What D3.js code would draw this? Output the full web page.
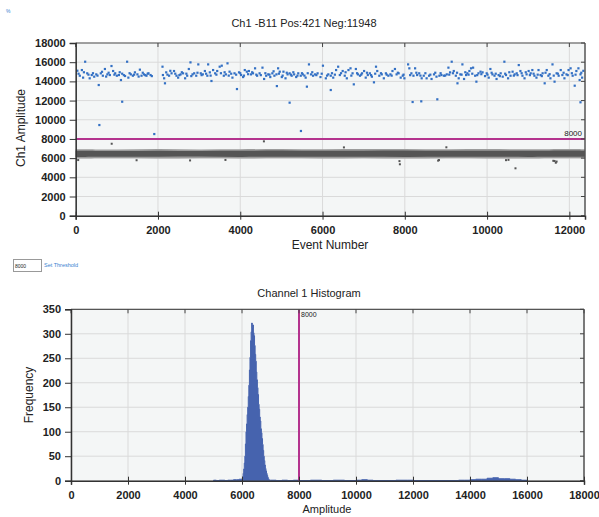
<!DOCTYPE html>
<html>
<head>
<meta charset="utf-8">
<script src="https://cdnjs.cloudflare.com/ajax/libs/d3/7.8.5/d3.min.js"></script>
<style>
	body { margin: 0; background: #fff; }
	text { font-family: "Liberation Sans", Arial, sans-serif; fill: #222; }
	.tick text { font-weight: bold; font-size: 11px; }
	.axis path, .axis line { stroke: #333; }
</style>
</head>
<body>
<div class="chart"></div>
<script>
// ---- data ----
var totalEvents = 12380;
var threshold = 8000;
var ampTicks = [0, 2000, 4000, 6000, 8000, 10000, 12000, 14000, 16000, 18000];
var eventTicks = [0, 2000, 4000, 6000, 8000, 10000, 12000];
var freqTicks = [0, 50, 100, 150, 200, 250, 300, 350];

// positive droplets [event, amplitude]
var positives = [
	[40,15110],[100,14590],[150,15180],[180,14390],[230,16050],[280,14840],[340,14320],[390,14660],[450,14490],[500,14730],
	[560,13620],[610,14840],[660,14590],[710,15290],[770,14730],[830,14660],[870,15600],[910,15080],[960,14840],[1000,14590],
	[1050,14660],[1100,14140],[1130,14800],[1200,14560],[1250,16050],[1280,14390],[1340,14730],[1390,14590],[1440,14940],[1500,14730],
	[1560,15220],[1600,14590],[1660,14730],[1720,14590],[1770,14840],[1820,14660],[2110,15530],[2120,14660],[2150,14320],[2170,13800],
	[2200,14940],[2270,14590],[2330,14840],[2390,15080],[2450,14590],[2490,14390],[2550,14730],[2610,14840],[2660,14320],[2710,14590],
	[2750,15290],[2790,15980],[2840,14730],[2880,14840],[2930,14590],[2980,15770],[3040,14840],[3090,14730],[3140,15080],[3200,14590],
	[3220,15770],[3260,14940],[3300,14040],[3340,15180],[3390,14840],[3440,15080],[3500,15530],[3550,15635],[3600,14590],[3650,14730],
	[3690,15880],[3740,15010],[3810,14390],[3860,14840],[3970,14940],[4020,14660],[4070,14450],[4110,15180],[4160,15010],[4210,15080],
	[4260,14730],[4310,14840],[4360,15360],[4410,14590],[4470,14840],[4540,15430],[4580,14250],[4630,14590],[4680,14730],[4730,14450],
	[4780,14840],[4830,14590],[4880,14730],[4920,15360],[4960,15010],[5010,14450],[5050,15010],[5100,14320],[5150,14730],[5200,14840],
	[5250,14590],[5310,14730],[5360,14450],[5410,14840],[5470,14590],[5520,14730],[5590,14390],[5670,15770],[5720,14730],[5770,14590],
	[5820,14730],[5880,14840],[5950,14450],[6010,15635],[6080,14320],[6140,14730],[6200,14590],[6260,14390],[6330,15180],[6380,15530],
	[6420,14660],[6490,15080],[6540,14590],[6590,14320],[6630,15180],[6680,15360],[6730,14840],[6760,13690],[6810,15290],[6860,14730],
	[6910,14590],[6960,14840],[7010,15080],[7050,14390],[7100,14660],[7150,14840],[7200,14490],[7250,13900],[7300,15530],[7330,15080],
	[7380,14590],[7440,14730],[7490,14320],[7540,14840],[7600,14590],[7650,14730],[7700,15080],[7760,15290],[7800,14730],[7850,14840],
	[7900,14390],[7950,14590],[7990,14320],[8080,15770],[8110,15360],[8160,14840],[8210,14590],[8250,15360],[8300,14660],[8350,14840],
	[8410,14320],[8460,14590],[8530,14320],[8590,14590],[8650,14250],[8710,14730],[8770,14490],[8840,14590],[8890,14660],[8950,14590],
	[9020,14730],[9060,15430],[9100,14940],[9140,16050],[9190,15080],[9240,14590],[9310,14320],[9350,14730],[9400,15770],[9440,14250],
	[9490,14660],[9520,14840],[9570,15080],[9610,15360],[9660,15430],[9710,14590],[9740,13970],[9790,14840],[9840,15010],[9890,14940],
	[9990,14840],[10040,14390],[10080,15290],[10130,14730],[10180,14590],[10230,14250],[10280,14660],[10330,14840],[10380,14490],[10420,16050],
	[10460,14660],[10510,14320],[10570,14590],[10620,15010],[10670,14730],[10720,14840],[10770,15700],[10810,15080],[10860,14590],[10910,14320],
	[10960,14730],[11010,15080],[11060,14840],[11100,15180],[11150,14590],[11200,14390],[11250,15180],[11300,14660],[11350,14840],[11400,13800],
	[11450,15180],[11490,14590],[11540,14320],[11590,15770],[11640,13970],[11690,14840],[11740,14590],[11790,15180],[11830,14660],[11880,14320],
	[11930,14730],[11980,15180],[12030,15360],[12080,14590],[12170,15080],[12220,15360],[12250,14140],[12270,14730],[12310,14390],
	[70,14800],[200,14950],[310,14700],[420,14850],[530,14600],[640,15000],[740,14500],[800,14900],[940,14700],[1070,14950],
	[1170,14650],[1310,14850],[1420,14700],[1530,14500],[1630,14900],[1690,14650],[1750,14800],[1850,14550],[2230,14700],[2300,15100],
	[2420,14800],[2520,14650],[2580,14950],[2690,14800],[2810,14550],[2960,14900],[3060,14650],[3170,14800],[3280,14600],[3420,14700],
	[3530,14850],[3620,14950],[3720,14600],[3780,14800],[3900,14700],[4000,14850],[4090,14600],[4190,14750],[4290,14950],[4390,14700],
	[4500,14650],[4610,14850],[4710,14700],[4810,15050],[4940,14800],[5030,14600],[5130,14900],[5230,14700],[5290,14950],[5390,14600],
	[5500,14850],[5560,14600],[5640,14850],[5750,14950],[5850,14650],[5980,14800],[6110,14600],[6230,14850],[6300,14700],[6450,14850],
	[6560,14950],[6700,14600],[6840,14850],[6940,14700],[7080,14900],[7180,14650],[7280,14800],[7420,14850],[7560,14700],[7680,14600],
	[7830,14900],[7970,14700],[8130,14650],[8280,14900],[8380,14600],[8500,14850],[8620,14700],[8740,14900],[8870,14850],[8980,14600],
	[9080,14700],[9170,14850],[9270,14900],[9380,14700],[9470,14950],[9550,14700],[9640,14800],[9760,14650],[9860,14750],[9950,14550],
	[10010,14700],[10110,14900],[10210,14800],[10310,14550],[10440,14800],[10540,14950],[10650,14600],[10740,14650],[10840,14850],[10940,14950],
	[11040,14650],[11130,14800],[11230,14700],[11330,14550],[11420,14900],[11520,14750],[11620,14600],[11720,14800],[11860,14900],[11960,14650],
	[12060,14850],[12150,14700],[12290,14900],[12340,15100],
	// low positives
	[575,9450],[1910,8510],[1130,11880],[3920,13200],[5200,11780],[4890,13510],[5620,13450],[8190,11850],[8400,11920],[8790,12130],
	[6200,13100],[12270,11820],[12130,13550],[9280,13800],[5475,8830]
];

// negative cluster as a band per event: outer edge and dense core
var bandEvent = [0, 1000, 2000, 3000, 4000, 5000, 6000, 7000, 8000, 9000, 10000, 11000, 12000, 12380];
var bandLo = [5950, 5980, 5960, 5990, 5970, 5980, 5960, 5990, 5950, 5980, 5970, 5960, 5980, 5970];
var bandHi = [6920, 6900, 6940, 6910, 6930, 6950, 6920, 6940, 6960, 6930, 6940, 6920, 6950, 6930];
var coreLo = [6130, 6150, 6140, 6160, 6130, 6150, 6140, 6150, 6130, 6140, 6150, 6130, 6140, 6150];
var coreHi = [6760, 6740, 6780, 6750, 6770, 6790, 6760, 6780, 6800, 6770, 6780, 6760, 6790, 6770];

// negative outliers [event, amplitude]
var negOutliers = [
	[875,7500],[4575,7750],[7880,5360],[10690,4940],[11670,5520],[1480,5780],[2780,5760],[8830,5800],
	[10460,5790],[10520,5820],[11640,5700],[11690,5640],[60,5800],[3640,5810],[6520,7120],[9010,7130],
	[8810,5740],[7870,5690],[11610,5720]
];

// histogram (bin start amplitude, frequency) - drawn as steps
var histAmplitude = [
	5000, 5100, 5200, 5300, 5400, 5500, 5600, 5700, 5800, 5900,
	6000, 6020, 6040, 6060, 6080, 6100, 6120, 6140, 6160, 6180,
	6200, 6220, 6240, 6260, 6280, 6300, 6320, 6340, 6360, 6380,
	6400, 6420, 6440, 6460, 6480, 6500, 6520, 6540, 6560, 6580,
	6600, 6620, 6640, 6660, 6680, 6700, 6720, 6740, 6760, 6780,
	6800, 6820, 6840, 6860, 6880, 6900, 6920, 6940, 6960, 7000,
	7200, 7400, 7600, 7800, 8000, 8400, 8800, 9200, 9600, 10000,
	10200, 10400, 10600, 11400, 11800, 12000, 13600, 13800, 14000, 14200,
	14400, 14600, 14800, 15000, 15200, 15400, 15600, 15800, 16000
];
var histFrequency = [
	1, 0, 1, 1, 0, 1, 1, 2, 2, 3,
	4, 8, 15, 24, 36, 50, 75, 100, 116, 135,
	150, 172, 195, 226, 252, 286, 304, 322, 312, 318,
	302, 296, 276, 258, 244, 222, 206, 190, 176, 156,
	146, 130, 122, 106, 98, 86, 74, 62, 50, 41,
	32, 25, 20, 15, 11, 7, 4, 2, 1, 1,
	0, 1, 0, 1, 0, 1, 0, 1, 0, 1,
	2, 1, 0, 1, 1, 0, 1, 1, 2, 3,
	3, 5, 6, 4, 4, 3, 2, 1, 0
];

var svg = d3.select(".chart").append("svg")
	.attr("width", 599)
	.attr("height", 517);

var magenta = "#b4338e";

function frame(g, x, y, xTicks, yTicks) {
	var x0 = x.range()[0], x1 = x.range()[1];
	var y0 = y.range()[0], y1 = y.range()[1];

	g.append("rect")
		.attr("x", x0).attr("y", y1)
		.attr("width", x1 - x0).attr("height", y0 - y1)
		.attr("fill", "#f4f6f6");

	g.selectAll("line.vgrid").data(xTicks).enter().append("line")
		.attr("class", "vgrid")
		.attr("x1", function (d) { return x(d); }).attr("x2", function (d) { return x(d); })
		.attr("y1", y0).attr("y2", y1)
		.attr("stroke", "#dadada").attr("stroke-width", 1);

	g.selectAll("line.hgrid").data(yTicks).enter().append("line")
		.attr("class", "hgrid")
		.attr("x1", x0).attr("x2", x1)
		.attr("y1", function (d) { return y(d); }).attr("y2", function (d) { return y(d); })
		.attr("stroke", "#dadada").attr("stroke-width", 1);
}

function axes(g, x, y, xTicks, yTicks) {
	var x0 = x.range()[0], x1 = x.range()[1];
	var y0 = y.range()[0], y1 = y.range()[1];

	// top and right borders with small inner ticks
	g.append("line").attr("x1", x0).attr("x2", x1).attr("y1", y1).attr("y2", y1)
		.attr("stroke", "#555").attr("stroke-width", 1.2);
	g.append("line").attr("x1", x1).attr("x2", x1).attr("y1", y1).attr("y2", y0)
		.attr("stroke", "#555").attr("stroke-width", 1.5);
	g.selectAll("line.ttick").data(xTicks).enter().append("line")
		.attr("class", "ttick")
		.attr("x1", function (d) { return x(d); }).attr("x2", function (d) { return x(d); })
		.attr("y1", y1).attr("y2", y1 + 4).attr("stroke", "#444");
	g.selectAll("line.rtick").data(yTicks).enter().append("line")
		.attr("class", "rtick")
		.attr("x1", x1 - 4).attr("x2", x1)
		.attr("y1", function (d) { return y(d); }).attr("y2", function (d) { return y(d); })
		.attr("stroke", "#444");

	var xAxis = d3.axisBottom(x).tickValues(xTicks).tickSize(4).tickPadding(7).tickFormat(d3.format("d"));
	var yAxis = d3.axisLeft(y).tickValues(yTicks).tickSize(6).tickPadding(4).tickFormat(d3.format("d"));

	var gx = g.append("g").attr("class", "x axis").attr("transform", "translate(0," + y0 + ")").call(xAxis);
	gx.select(".domain").attr("stroke-width", 1.5);
	gx.selectAll(".tick line").attr("y1", -4);
	var gy = g.append("g").attr("class", "y axis").attr("transform", "translate(" + x0 + ",0)").call(yAxis);
	gy.select(".domain").attr("stroke-width", 1.5);
	gy.selectAll(".tick line").attr("x2", -6).attr("x1", 1);
}

// ---- top: droplet amplitude vs event ----
var xe = d3.scaleLinear().domain([0, totalEvents]).range([75.7, 585]);
var ya = d3.scaleLinear().domain([0, 18000]).range([215.7, 43]);
var scatterG = svg.append("g");

frame(scatterG, xe, ya, eventTicks, ampTicks);

var bandData = bandEvent.map(function (e, i) {
	return {e: e, lo: bandLo[i], hi: bandHi[i], clo: coreLo[i], chi: coreHi[i]};
});

scatterG.append("path").datum(bandData)
	.attr("fill", "#9c9c9c")
	.attr("d", d3.area()
		.x(function (d) { return xe(d.e); })
		.y0(function (d) { return ya(d.lo); })
		.y1(function (d) { return ya(d.hi); })
		.curve(d3.curveCatmullRom));

scatterG.append("path").datum(bandData)
	.attr("fill", "#555555")
	.attr("d", d3.area()
		.x(function (d) { return xe(d.e); })
		.y0(function (d) { return ya(d.clo); })
		.y1(function (d) { return ya(d.chi); })
		.curve(d3.curveCatmullRom));

scatterG.selectAll("rect.neg").data(negOutliers).enter().append("rect")
	.attr("class", "neg")
	.attr("x", function (d) { return xe(d[0]) - 1; })
	.attr("y", function (d) { return ya(d[1]) - 1; })
	.attr("width", 2).attr("height", 2)
	.attr("fill", "#555");

scatterG.selectAll("rect.pos").data(positives).enter().append("rect")
	.attr("class", "pos")
	.attr("x", function (d) { return xe(d[0]) - 1.1; })
	.attr("y", function (d) { return ya(d[1]) - 1.1; })
	.attr("width", 2.2).attr("height", 2.2)
	.attr("fill", "#3370c4");

scatterG.append("line")
	.attr("x1", xe.range()[0]).attr("x2", xe.range()[1])
	.attr("y1", ya(threshold)).attr("y2", ya(threshold))
	.attr("stroke", magenta).attr("stroke-width", 2);

scatterG.append("text")
	.attr("x", 582).attr("y", ya(threshold) - 3)
	.attr("text-anchor", "end")
	.style("font-size", "8px")
	.text(threshold);

axes(scatterG, xe, ya, eventTicks, ampTicks);

scatterG.append("text")
	.attr("x", 304).attr("y", 27)
	.attr("text-anchor", "middle")
	.style("font-size", "11px")
	.text("Ch1 -B11 Pos:421 Neg:11948");

scatterG.append("text")
	.attr("x", 330).attr("y", 249)
	.attr("text-anchor", "middle")
	.style("font-size", "12px")
	.text("Event Number");

scatterG.append("text")
	.attr("transform", "translate(25,128) rotate(-90)")
	.attr("text-anchor", "middle")
	.style("font-size", "12px")
	.text("Ch1 Amplitude");

// tiny controls
svg.append("text").attr("x", 6).attr("y", 13)
	.style("font-size", "5px").style("fill", "#3a7fd0").text("%");
svg.append("rect").attr("x", 13.5).attr("y", 259.5).attr("width", 28).attr("height", 12)
	.attr("fill", "#fff").attr("stroke", "#999");
svg.append("text").attr("x", 15).attr("y", 267.5)
	.style("font-size", "5px").text("8000");
svg.append("text").attr("x", 44).attr("y", 267)
	.style("font-size", "5.5px").style("fill", "#3a7fd0").text("Set Threshold");

// ---- bottom: histogram ----
var xh = d3.scaleLinear().domain([0, 18000]).range([71, 584]);
var yh = d3.scaleLinear().domain([0, 350]).range([480.7, 309.3]);
var histG = svg.append("g");

frame(histG, xh, yh, ampTicks, freqTicks);

var histData = histAmplitude.map(function (a, i) { return {a: a, f: histFrequency[i]}; });

histG.append("path").datum(histData)
	.attr("fill", "#4663ae")
	.attr("stroke", "#4663ae")
	.attr("stroke-width", 1)
	.attr("d", d3.area()
		.x(function (d) { return xh(d.a); })
		.y0(yh(0))
		.y1(function (d) { return yh(d.f); })
		.curve(d3.curveStepAfter));

histG.append("line")
	.attr("x1", xh(threshold)).attr("x2", xh(threshold))
	.attr("y1", yh.range()[0]).attr("y2", yh.range()[1])
	.attr("stroke", magenta).attr("stroke-width", 2);

histG.append("text")
	.attr("x", xh(threshold) + 2).attr("y", 317)
	.style("font-size", "7px")
	.text(threshold);

axes(histG, xh, yh, ampTicks, freqTicks);

histG.append("text")
	.attr("x", 309).attr("y", 297)
	.attr("text-anchor", "middle")
	.style("font-size", "11px")
	.text("Channel 1 Histogram");

histG.append("text")
	.attr("x", 327).attr("y", 513)
	.attr("text-anchor", "middle")
	.style("font-size", "11px")
	.text("Amplitude");

histG.append("text")
	.attr("transform", "translate(33,395) rotate(-90)")
	.attr("text-anchor", "middle")
	.style("font-size", "12px")
	.text("Frequency");
</script>
</body>
</html>
